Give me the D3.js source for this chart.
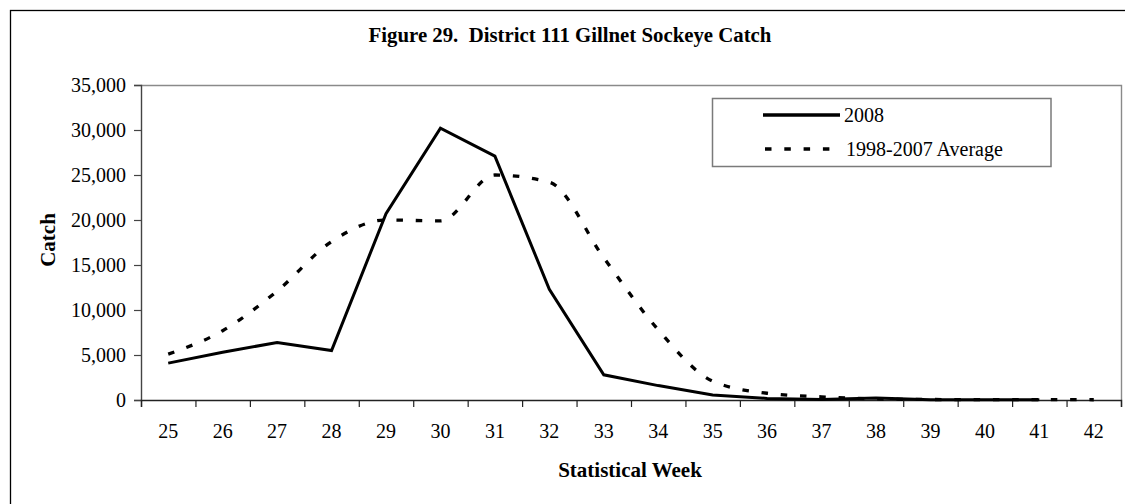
<!DOCTYPE html>
<html><head><meta charset="utf-8">
<script src="https://cdn.jsdelivr.net/npm/d3@7"></script>
<style>
html,body{margin:0;padding:0;background:#fff;}
svg{display:block;font-family:"Liberation Serif","Times New Roman",serif;}
</style></head>
<body><svg id="chart" width="1125" height="504"></svg>
<script>
const weeks = ["25","26","27","28","29","30","31","32","33","34","35","36","37","38","39","40","41","42"];
const catch2008 = [4100,5300,6400,5500,20700,30200,27100,12300,2800,1600,550,180,60,220,40,30,20];
const catchAvg = [5100,7700,12100,17600,20000,19900,25000,24200,15800,7800,2100,750,350,120,60,40,40,30];
const yTicks = [0,5000,10000,15000,20000,25000,30000,35000];
const seriesNames = ["2008","1998-2007 Average"];

const svg = d3.select("#chart");
const L = 141, R = 1121, T = 85, B = 400;

// outer border (extends past image right/bottom)
svg.append("rect").attr("x",10.5).attr("y",10.5).attr("width",1150).attr("height",550)
  .attr("fill","none").attr("stroke","#000").attr("stroke-width",1.3);

const x = d3.scaleBand().domain(weeks).range([L,R]).padding(0);
const xb = d3.scaleLinear().domain([0,weeks.length]).range([L,R]);
const y = d3.scaleLinear().domain([0,35000]).range([B,T]);

// plot border (top/right gray)
svg.append("path").attr("d",`M${L},${T+0.5}H${R+0.5}V${B}`).attr("fill","none")
  .attr("stroke","#8a8a8a").attr("stroke-width",1.4);

// y axis
const yAxis = svg.append("g").attr("transform",`translate(${L},0)`)
  .call(d3.axisLeft(y).tickValues(yTicks).tickSize(7).tickPadding(8).tickFormat(d3.format(",")));
yAxis.select(".domain").attr("stroke","#444").attr("stroke-width",1.4);
yAxis.selectAll(".tick line").attr("stroke","#444").attr("stroke-width",1.2);
yAxis.selectAll("text").attr("font-size","20px").attr("fill","#000")
  .attr("font-family","Liberation Serif").attr("dy","0.34em");

// x axis tick marks at band boundaries
const xTickAxis = svg.append("g").attr("transform",`translate(0,${B})`)
  .call(d3.axisBottom(xb).tickValues(d3.range(0,weeks.length+1)).tickSize(7).tickFormat(""));
xTickAxis.select(".domain").attr("stroke","#222").attr("stroke-width",1.4);
xTickAxis.selectAll(".tick line").attr("stroke","#222").attr("stroke-width",1.2);

// x labels
const xLab = svg.append("g").attr("transform",`translate(0,${B})`)
  .call(d3.axisBottom(x).tickSize(0).tickPadding(0));
xLab.select(".domain").remove();
xLab.selectAll("text").attr("font-size","20px").attr("fill","#000")
  .attr("font-family","Liberation Serif").attr("y",38).attr("dy",0);

// lines
const line = d3.line().x((d,i)=>x(weeks[i])+x.bandwidth()/2).y(d=>y(d));
const lineSmooth = d3.line().x((d,i)=>x(weeks[i])+x.bandwidth()/2).y(d=>y(d)).curve(d3.curveMonotoneX);

svg.append("path").datum(catchAvg).attr("d",lineSmooth).attr("fill","none")
  .attr("stroke","#000").attr("stroke-width",3.3).attr("stroke-dasharray","6.5,12.8");
svg.append("path").datum(catch2008).attr("d",line).attr("fill","none")
  .attr("stroke","#000").attr("stroke-width",3).attr("stroke-linejoin","miter");

// title
svg.append("text").attr("x",570).attr("y",42).attr("text-anchor","middle")
  .attr("font-size","20.8px").attr("font-weight","bold").attr("fill","#000")
  .attr("xml:space","preserve")
  .text("Figure 29.  District 111 Gillnet Sockeye Catch");

// axis titles
svg.append("text").attr("x",630).attr("y",477).attr("text-anchor","middle")
  .attr("font-size","21px").attr("font-weight","bold").text("Statistical Week");
svg.append("text").attr("transform","translate(55,240) rotate(-90)").attr("text-anchor","middle")
  .attr("font-size","21px").attr("font-weight","bold").text("Catch");

// legend
const lg = svg.append("g");
lg.append("rect").attr("x",712.5).attr("y",98.5).attr("width",338.5).attr("height",68)
  .attr("fill","#fff").attr("stroke","#7a7a7a").attr("stroke-width",1.5);
lg.append("line").attr("x1",763).attr("x2",840).attr("y1",115).attr("y2",115)
  .attr("stroke","#000").attr("stroke-width",3.3);
lg.append("line").attr("x1",765).attr("x2",830).attr("y1",149).attr("y2",149)
  .attr("stroke","#000").attr("stroke-width",3.5).attr("stroke-dasharray","6.5,12.8");
lg.append("text").attr("x",844).attr("y",122).attr("font-size","20px").text(seriesNames[0]);
lg.append("text").attr("x",846).attr("y",156).attr("font-size","20px").text(seriesNames[1]);
</script></body></html>
